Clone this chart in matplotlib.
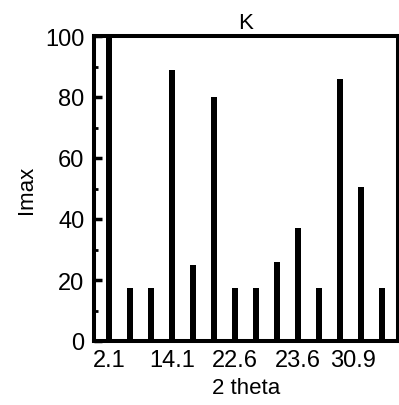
import matplotlib
matplotlib.use("Agg")
import matplotlib.pyplot as plt
from matplotlib.ticker import MultipleLocator
from matplotlib.transforms import ScaledTranslation

# XRD peak list for sample K
peaks = ["2.1", "", "", "14.1", "", "", "22.6", "", "", "23.6", "", "", "30.9", ""]
imax = [100, 17.5, 17.5, 89, 25, 80, 17.5, 17.5, 26, 37, 17.5, 86, 50.5, 17.5]

plt.rcParams["font.family"] = ["Liberation Sans", "DejaVu Sans"]

fig = plt.figure(figsize=(3.99, 4.06), dpi=100)
ax = fig.add_axes([94 / 399, 64 / 406, 303.5 / 399, 305 / 406])

x = list(range(len(imax)))
ax.bar(x, imax, width=0.31, color="black")

ax.set_xlim(-0.72, len(imax) - 0.27)
ax.set_ylim(0, 100)

ax.set_xticks(x)
ax.set_xticklabels(peaks, fontsize=17)
ax.tick_params(axis="x", length=0, pad=6)
# last label sits a little left so it stays inside the figure
lbl = ax.get_xticklabels()[12]
lbl.set_transform(lbl.get_transform() + ScaledTranslation(-8 / 100, 0, fig.dpi_scale_trans))

ax.yaxis.set_major_locator(MultipleLocator(20))
ax.yaxis.set_minor_locator(MultipleLocator(10))
ax.tick_params(axis="y", which="major", direction="in", length=6, width=2.5, labelsize=17, pad=7)
ax.tick_params(axis="y", which="minor", direction="in", length=3, width=2)

for s in ax.spines.values():
    s.set_linewidth(2.9)

ax.set_title("K", fontsize=16, pad=6)
ax.set_xlabel("2 theta", fontsize=16, labelpad=4)
ax.set_ylabel("Imax", fontsize=16, labelpad=6)

fig.savefig("out.png", dpi=100)
